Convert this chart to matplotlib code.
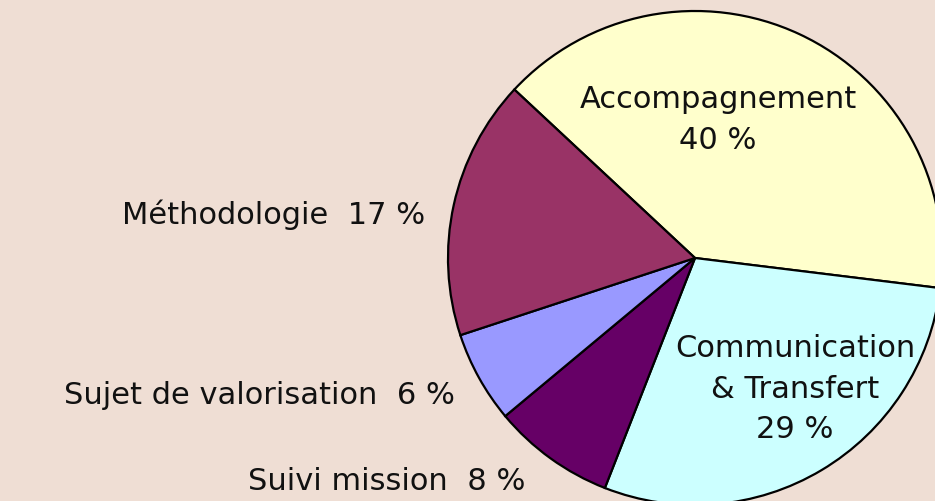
import matplotlib
matplotlib.use('Agg')
import matplotlib.pyplot as plt

# data (clockwise from the top-right)
categories = ['Accompagnement', 'Communication\n& Transfert', 'Suivi mission',
              'Sujet de valorisation', 'Méthodologie']
shares = [40, 29, 8, 6, 17]
colors = ['#FFFFCC', '#CCFFFF', '#660066', '#9999FF', '#993366']

bg = '#EFDED4'
W, H = 935, 501
cx, cy, R = 695, 258, 247  # pie centre / radius in pixels


def px(x, y):
    # pixel (from top-left) -> data coords where the pie has radius 1
    return (x - cx) / R, (cy - y) / R


fig = plt.figure(figsize=(W / 100, H / 100), dpi=100, facecolor=bg)
ax = fig.add_axes([0, 0, 1, 1])
ax.set_facecolor(bg)

ax.pie(shares, colors=colors, startangle=137, counterclock=False,
       radius=1, center=(0, 0),
       wedgeprops=dict(edgecolor='black', linewidth=1.6))

ax.set_xlim(-cx / R, (W - cx) / R)
ax.set_ylim((cy - H) / R, cy / R)
ax.set_aspect('equal')
ax.axis('off')

font = dict(fontsize=22, color='#111111', family='DejaVu Sans')

# labels inside the two big slices
ax.text(*px(718, 120), f'{categories[0]}\n{shares[0]} %', ha='center', va='center',
        linespacing=1.5, **font)
ax.text(*px(795, 389), f'{categories[1]}\n{shares[1]} %', ha='center', va='center',
        linespacing=1.5, **font)

# labels outside the small slices
ax.text(*px(425, 215), f'{categories[4]}  {shares[4]} %', ha='right', va='center', **font)
ax.text(*px(455, 395), f'{categories[3]}  {shares[3]} %', ha='right', va='center', **font)
ax.text(*px(525, 482), f'{categories[2]}  {shares[2]} %', ha='right', va='center', **font)

fig.savefig('out.png', dpi=100, facecolor=bg)
